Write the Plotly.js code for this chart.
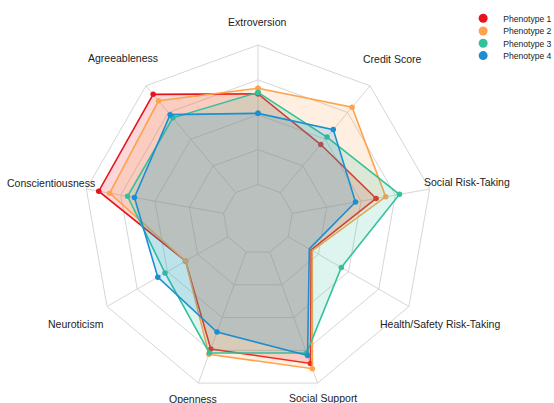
<!DOCTYPE html>
<html><head><meta charset="utf-8">
<script src="https://cdn.plot.ly/plotly-3.0.1.min.js"></script>
<style>html,body{margin:0;padding:0;background:#fff}</style>
</head><body><div id="chart" style="width:554px;height:403px"></div>
<script>
const categories = ["Extroversion", "Credit Score", "Social Risk-Taking", "Health/Safety Risk-Taking",
  "Social Support", "Openness", "Neuroticism", "Conscientiousness", "Agreeableness"];
const seriesNames = ["Phenotype 1", "Phenotype 2", "Phenotype 3", "Phenotype 4"];
const phenotype1 = [0.65, 0.45, 0.61, 0.19, 0.85, 0.74, 0.35, 0.91, 0.92];
const phenotype2 = [0.69, 0.80, 0.68, 0.20, 0.89, 0.78, 0.35, 0.83, 0.86];
const phenotype3 = [0.66, 0.52, 0.78, 0.44, 0.77, 0.77, 0.52, 0.70, 0.70];
const phenotype4 = [0.51, 0.59, 0.46, 0.175, 0.79, 0.61, 0.58, 0.65, 0.73];
const radialTicks = [0, 0.25, 0.5, 0.75, 1];

// style: distance of each category label from the centre, as a multiple of the grid radius
const labelDist = [1.13, 1.197, 1.22, 1.205, 1.092, 1.097, 1.205, 1.205, 1.205];

const colors = ["#e8141c", "#ffa24c", "#33c19b", "#1b8fd2"];
const fills = ["rgba(232,20,28,0.17)", "rgba(255,162,76,0.17)", "rgba(51,193,155,0.17)", "rgba(27,143,210,0.17)"];
const allSeries = [phenotype1, phenotype2, phenotype3, phenotype4];
const fontFam = "Liberation Sans, Arial, sans-serif";
const W = 554, H = 403;

const traces = [];
allSeries.forEach((vals, i) => {
  traces.push({
    type: "scatterpolar", subplot: "polar2",
    r: vals.concat([vals[0]]), theta: categories.concat([categories[0]]),
    mode: "lines+markers", fill: "toself", fillcolor: fills[i],
    line: {color: colors[i], width: 1.6}, marker: {color: colors[i], size: 5.5},
    name: seriesNames[i], showlegend: false, hoverinfo: "skip"
  });
});
allSeries.forEach((vals, i) => {
  traces.push({
    type: "scatterpolar", subplot: "polar",
    r: categories.map(() => null), theta: categories,
    mode: "markers", marker: {color: colors[i], size: 9},
    name: seriesNames[i], showlegend: true, legend: i === 0 ? "legend" : "legend" + (i + 1)
  });
});

const dom = {x: [0.1511, 0.7803], y: [0.0233, 0.8883]};
const gridCol = "#d6d6d6";

// category labels placed around the polar grid (geometry derived from the polar domain)
const cxP = (dom.x[0] + dom.x[1]) / 2, cyP = (dom.y[0] + dom.y[1]) / 2;
const radPx = Math.min((dom.x[1] - dom.x[0]) * W, (dom.y[1] - dom.y[0]) * H) / 2;
const annotations = categories.map((c, k) => {
  const a = (k * 360 / categories.length) * Math.PI / 180;
  const d = radPx * labelDist[k];
  return {text: c, xref: "paper", yref: "paper", showarrow: false,
    x: cxP + d * Math.sin(a) / W, y: cyP + d * Math.cos(a) / H,
    xanchor: "center", yanchor: "middle", font: {family: fontFam, size: 10.5, color: "#222"}};
});

const legendBase = {x: 0.836, xanchor: "left", yanchor: "middle", bgcolor: "rgba(0,0,0,0)",
  font: {family: fontFam, size: 8.6, color: "#222"}};
const legendYs = [18.3, 31, 43.3, 55.6].map(p => 1 - p / H);

const layout = {
  width: W, height: H,
  margin: {l: 0, r: 0, t: 0, b: 0, autoexpand: false},
  paper_bgcolor: "#fff",
  font: {family: fontFam, size: 10.5, color: "#222"},
  annotations: annotations,
  polar: {
    domain: dom, hole: 0.2, gridshape: "linear", bgcolor: "rgba(0,0,0,0)",
    radialaxis: {range: [0, 1], tickvals: radialTicks, showticklabels: false, ticks: "",
      showline: false, gridcolor: gridCol, gridwidth: 1},
    angularaxis: {type: "category", direction: "clockwise", rotation: 90,
      showline: true, linecolor: gridCol, linewidth: 1, gridcolor: gridCol, gridwidth: 1,
      ticks: "", showticklabels: false}
  },
  polar2: {
    domain: dom, hole: 0, gridshape: "linear", bgcolor: "rgba(0,0,0,0)",
    radialaxis: {range: [-0.25, 1], visible: false, showgrid: false},
    angularaxis: {type: "category", direction: "clockwise", rotation: 90,
      showline: false, showgrid: false, showticklabels: false, ticks: ""}
  },
  legend: Object.assign({}, legendBase, {y: legendYs[0]}),
  legend2: Object.assign({}, legendBase, {y: legendYs[1]}),
  legend3: Object.assign({}, legendBase, {y: legendYs[2]}),
  legend4: Object.assign({}, legendBase, {y: legendYs[3]}),
  showlegend: true
};

Plotly.newPlot("chart", traces, layout, {displayModeBar: false, staticPlot: true});
</script></body></html>
